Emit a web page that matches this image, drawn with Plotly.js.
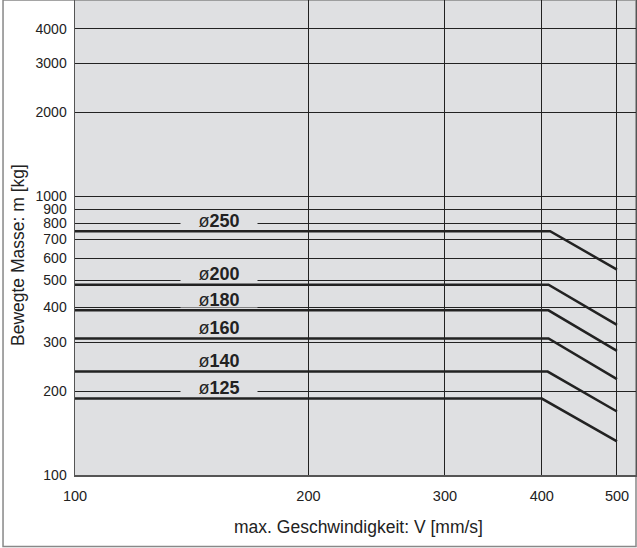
<!DOCTYPE html>
<html>
<head>
<meta charset="utf-8">
<script src="https://cdn.plot.ly/plotly-3.0.1.min.js"></script>
<style>html,body{margin:0;padding:0;background:#fff;}#chart{width:637px;height:548px;}</style>
</head>
<body>
<div id="chart"></div>
<script>
// Bore sizes (labels)
const sizes = ["250", "200", "180", "160", "140", "125"];
// Constant mass up to the break speed [kg]
const massFlat = [750, 482, 390, 309, 235, 188];
// Speed where the allowed mass starts to fall [mm/s]
const breakSpeed = [410, 408, 408, 408, 407, 400];
// Maximum speed [mm/s]
const maxSpeed = [500, 500, 500, 500, 500, 500];
// Mass at max speed [kg]
const massEnd = [546, 346, 279, 221, 169, 132];
const startSpeed = 100;

const xTicks = [100, 200, 300, 400, 500];
const yTicks = [100, 200, 300, 400, 500, 600, 700, 800, 900, 1000, 2000, 3000, 4000];

const bg = '#dfe0e2';
const traces = sizes.map((s, i) => ({
  type: 'scatter', mode: 'lines',
  x: [startSpeed, breakSpeed[i], maxSpeed[i]],
  y: [massFlat[i], massFlat[i], massEnd[i]],
  line: {color: '#222', width: 2.5},
  hoverinfo: 'skip', showlegend: false, cliponaxis: false
}));

const labelAnn = sizes.map((s, i) => ({
  x: Math.log10(153.5), y: Math.log10(massFlat[i]), xref: 'x', yref: 'y',
  yshift: 11,
  text: 'ø<b>' + s + '</b>', showarrow: false,
  font: {family: 'Liberation Sans, Arial, sans-serif', size: 18, color: '#222'},
  bgcolor: bg, width: 76, height: 15, borderpad: 0
}));

const layout = {
  width: 637, height: 548,
  margin: {l: 75, r: 1, t: 0, b: 73},
  paper_bgcolor: '#ffffff', plot_bgcolor: bg,
  font: {family: 'Liberation Sans, Arial, sans-serif', color: '#222'},
  xaxis: {
    type: 'log', range: [2, 2.7235],
    tickvals: xTicks, ticktext: xTicks.map(String),
    tickfont: {size: 14.5, color: '#222'},
    showgrid: true, gridcolor: '#222', gridwidth: 1,
    showline: true, linecolor: '#555', linewidth: 1.5, mirror: true,
    ticks: '', ticklabelstandoff: 7, zeroline: false, fixedrange: true
  },
  yaxis: {
    type: 'log', range: [2, 3.705],
    tickvals: yTicks, ticktext: yTicks.map(String),
    tickfont: {size: 14, color: '#222'},
    showgrid: true, gridcolor: '#222', gridwidth: 1,
    showline: true, linecolor: '#555', linewidth: 1.5, mirror: true,
    ticks: '', ticklabelstandoff: 4, zeroline: false, fixedrange: true
  },
  shapes: [{
    type: 'rect', xref: 'paper', yref: 'paper',
    x0: -0.1283, x1: 1, y0: -0.1505, y1: 1,
    line: {color: '#888', width: 1.5}, fillcolor: 'rgba(0,0,0,0)', layer: 'below'
  }],
  annotations: labelAnn.concat([
    {xref: 'paper', yref: 'paper', x: (358 - 75) / 561, y: (475 - 527) / 475,
     xanchor: 'center', yanchor: 'middle', showarrow: false,
     text: 'max. Geschwindigkeit: V [mm/s]',
     font: {size: 17.5, color: '#222'}},
    {xref: 'paper', yref: 'paper', x: (18 - 75) / 561, y: (475 - 255) / 475,
     xanchor: 'center', yanchor: 'middle', showarrow: false, textangle: -90,
     text: 'Bewegte Masse: m [kg]',
     font: {size: 17.5, color: '#222'}}
  ])
};

Plotly.newPlot('chart', traces, layout, {displayModeBar: false, staticPlot: true});
</script>
</body>
</html>
